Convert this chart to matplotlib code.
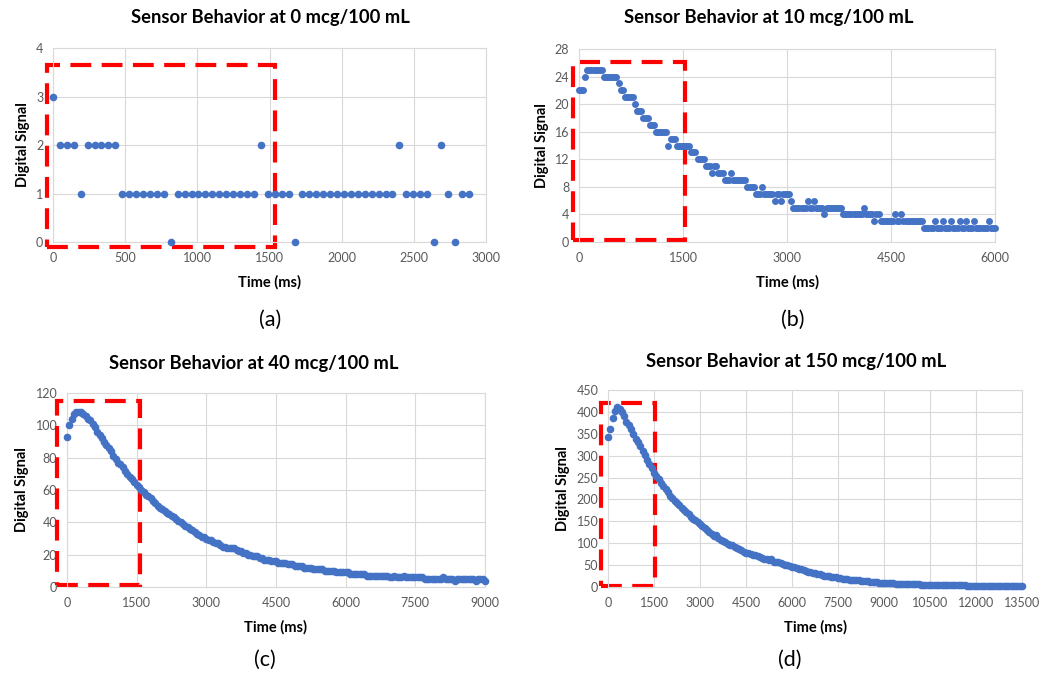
import numpy as np
import matplotlib

matplotlib.use("Agg")
import matplotlib.pyplot as plt
from matplotlib.patches import Rectangle

plt.rcParams["font.family"] = ["Lato", "DejaVu Sans"]

BLUE = "#4472C4"
GRID = "#D9D9D9"
TICK = "#595959"

# ---- data ------------------------------------------------------------------
# (a) 0 mcg/100 mL, one reading every 48 ms
step_a = 48
signal_a = [3, 2, 2, 2, 1, 2, 2, 2, 2, 2,
            1, 1, 1, 1, 1, 1, 1, 0,
            1, 1, 1, 1, 1, 1, 1, 1, 1, 1, 1, 1,
            2, 1, 1, 1, 1, 0,
            1, 1, 1, 1, 1, 1, 1, 1, 1, 1, 1, 1, 1, 1,
            2, 1, 1, 1, 1, 0, 2, 1, 0, 1, 1]

# (b) 10 mcg/100 mL, one reading every 30 ms
step_b = 30
signal_b = [22, 22, 22, 24, 25, 25, 25, 25, 25, 25, 25, 25,
            24, 24, 24, 24, 24, 24, 24, 23, 22, 22,
            21, 21, 21, 21, 21, 20, 19, 19, 19, 18, 18, 18, 17, 17, 17,
            16, 16, 16, 16, 16, 16, 14, 15, 15, 15,
            14, 14, 14, 14, 14, 14, 14, 13, 13, 13, 12, 12, 12, 12,
            11, 11, 11, 10, 11, 11, 10, 10, 10, 9, 9, 9, 10,
            9, 9, 9, 9, 9, 9, 9, 8, 8, 8, 8, 7, 7, 7, 8,
            7, 7, 7, 7, 7, 6, 7, 7, 6, 7, 7, 7, 7, 6,
            5, 5, 5, 5, 5, 5, 5, 6, 5, 5, 6, 5, 5, 5, 5, 4,
            5, 5, 5, 5, 5, 5, 5, 5,
            4, 4, 4, 4, 4, 4, 4, 4, 4, 4, 5, 4, 4, 4, 4, 3, 4, 4,
            3, 3, 3, 3, 3, 3, 3, 4, 3, 3, 4,
            3, 3, 3, 3, 3, 3, 3, 3, 3, 3,
            2, 2, 2, 2, 2, 3, 2, 2, 2, 3, 2, 2, 2, 3, 2, 2, 2, 3,
            2, 2, 3, 2, 2, 2, 3, 2, 2, 2, 2, 2, 2, 3, 2, 2, 2]

# (c) 40 mcg/100 mL, one reading every 50 ms
step_c = 50
signal_c = [93, 100, 104, 107, 108, 108, 108, 107, 106, 104,
            103, 101, 99, 96, 94, 92, 90, 88, 86, 84,
            81, 79, 77, 76, 74, 72, 70, 68, 67, 65,
            63, 62, 60, 59, 57, 56, 55, 53, 52, 50,
            49, 48, 47, 46, 45, 44, 43, 42, 41, 40,
            39, 38, 37, 36, 35, 34, 33, 32, 31, 31,
            30, 29, 29, 28, 27, 27, 26, 25, 25, 24,
            24, 24, 24, 23, 22, 22, 21, 21, 20, 20,
            19, 19, 19, 18, 18, 17, 17, 17, 16, 16,
            16, 15, 15, 15, 15, 14, 14, 14, 13, 13,
            13, 13, 12, 12, 12, 12, 11, 11, 11, 11,
            11, 10, 10, 10, 10, 10, 9, 9, 9, 9,
            9, 9, 8, 8, 8, 8, 8, 8, 8, 7,
            7, 7, 7, 7, 7, 7, 7, 7, 7, 6,
            6, 7, 6, 6, 6, 7, 6, 6, 6, 6,
            6, 6, 6, 6, 5, 5, 5, 5, 5, 5,
            5, 5, 6, 5, 5, 5, 5, 4, 5, 5,
            5, 5, 5, 5, 5, 5, 4, 5, 5, 5,
            4]

# (d) 150 mcg/100 mL, one reading every 75 ms
step_d = 75
signal_d = [343, 360, 387, 401, 412, 407, 399, 390, 378, 370,
            362, 350, 338, 331, 321, 311, 301, 291, 282, 271,
            261, 254, 246, 238, 230, 223, 216, 209, 203, 197,
            192, 187, 181, 176, 171, 166, 161, 156, 152, 149,
            144, 139, 135, 130, 125, 120, 116, 118, 112, 108,
            105, 102, 99, 97, 95, 92, 90, 87, 84, 80,
            78, 78, 75, 74, 72, 70, 68, 66, 65, 63,
            62, 63, 58, 57, 56, 54, 53, 51, 50, 48,
            46, 45, 43, 42, 40, 38, 37, 35, 34, 32,
            31, 30, 29, 27, 26, 25, 24, 23, 22, 22,
            21, 20, 19, 19, 18, 17, 16, 16, 15, 15,
            14, 14, 13, 13, 12, 12, 11, 11, 10, 10,
            9, 9, 8, 8, 8, 7, 7, 7, 7, 7,
            6, 6, 6, 6, 6, 6, 5, 5, 5, 5,
            5, 5, 5, 5, 4, 4, 4, 4, 4, 4,
            4, 4, 4, 4, 4, 4, 3, 3, 3, 3,
            3, 3, 3, 3, 3, 3, 3, 3, 3, 3,
            3, 2, 3, 3, 3, 3, 3, 3, 3, 3,
            3]

titles = ["Sensor Behavior at 0 mcg/100 mL",
          "Sensor Behavior at 10 mcg/100 mL",
          "Sensor Behavior at 40 mcg/100 mL",
          "Sensor Behavior at 150 mcg/100 mL"]
panel_tags = ["(a)", "(b)", "(c)", "(d)"]
x_max = [3000, 6000, 9000, 13500]
x_step = [500, 1500, 1500, 1500]
y_max = [4, 28, 120, 450]
y_step = [1, 4, 20, 50]
# highlighted window (t0, t1, y0, y1) drawn as red dashed box
windows = [(-40, 1540, -0.1, 3.64),
           (-80, 1535, 0.35, 26.1),
           (-215, 1580, 1.4, 115),
           (-240, 1543, 3, 421)]

series = [(step_a, signal_a), (step_b, signal_b),
          (step_c, signal_c), (step_d, signal_d)]

# ---- layout (pixels) --------------------------------------------------------
W, H = 1054, 679
fig = plt.figure(figsize=(W / 100, H / 100), dpi=100)

boxes = [(53, 48, 486, 242), (579, 49, 995, 242),
         (67, 393, 485, 587), (608, 390, 1022, 587)]
title_xy = [(270, 18), (769, 18), (254, 363), (796, 361)]
tag_xy = [(270, 320), (793, 320), (265, 660), (790, 660)]
ylabel_x = [23, 542, 22, 563]
marker_s = [30, 25, 30, 30]

for i in range(4):
    x0, y0, x1, y1 = boxes[i]
    ax = fig.add_axes([x0 / W, 1 - y1 / H, (x1 - x0) / W, (y1 - y0) / H])
    step, sig = series[i]
    t = np.arange(len(sig)) * step

    t0, t1, b0, b1 = windows[i]
    ax.add_patch(Rectangle((t0, b0), t1 - t0, b1 - b0, fill=False,
                           ec="#FF0000", lw=3, ls=(0, (5, 2.5)),
                           clip_on=False, zorder=2))
    ax.scatter(t, sig, s=marker_s[i], color=BLUE, linewidths=0,
               clip_on=False, zorder=3)

    ax.set_xlim(0, x_max[i])
    ax.set_ylim(0, y_max[i])
    ax.set_xticks(np.arange(0, x_max[i] + 1, x_step[i]))
    ax.set_yticks(np.arange(0, y_max[i] + 1, y_step[i]))
    ax.grid(color=GRID, lw=0.8)
    ax.set_axisbelow(True)
    ax.tick_params(length=0, pad=7, labelsize=9, labelcolor=TICK)
    for sp in ax.spines.values():
        sp.set_color(GRID)
        sp.set_linewidth(0.8)

    ax.set_xlabel("Time (ms)", fontsize=10.5, fontweight="bold")
    ax.set_ylabel("Digital Signal", fontsize=10.5, fontweight="bold")
    h = y1 - y0
    w = x1 - x0
    ax.xaxis.set_label_coords(0.5, -40 / h)
    ax.xaxis.label.set_va("center")
    ax.yaxis.set_label_coords((ylabel_x[i] - x0) / w, 0.5)
    ax.yaxis.label.set_va("center")

    tx, ty = title_xy[i]
    fig.text(tx / W, 1 - ty / H, titles[i], ha="center", va="center",
             fontsize=13.2, fontweight="bold")
    gx, gy = tag_xy[i]
    fig.text(gx / W, 1 - gy / H, panel_tags[i], ha="center", va="center",
             fontsize=15.5)

fig.savefig("out.png", dpi=100, facecolor="white")
